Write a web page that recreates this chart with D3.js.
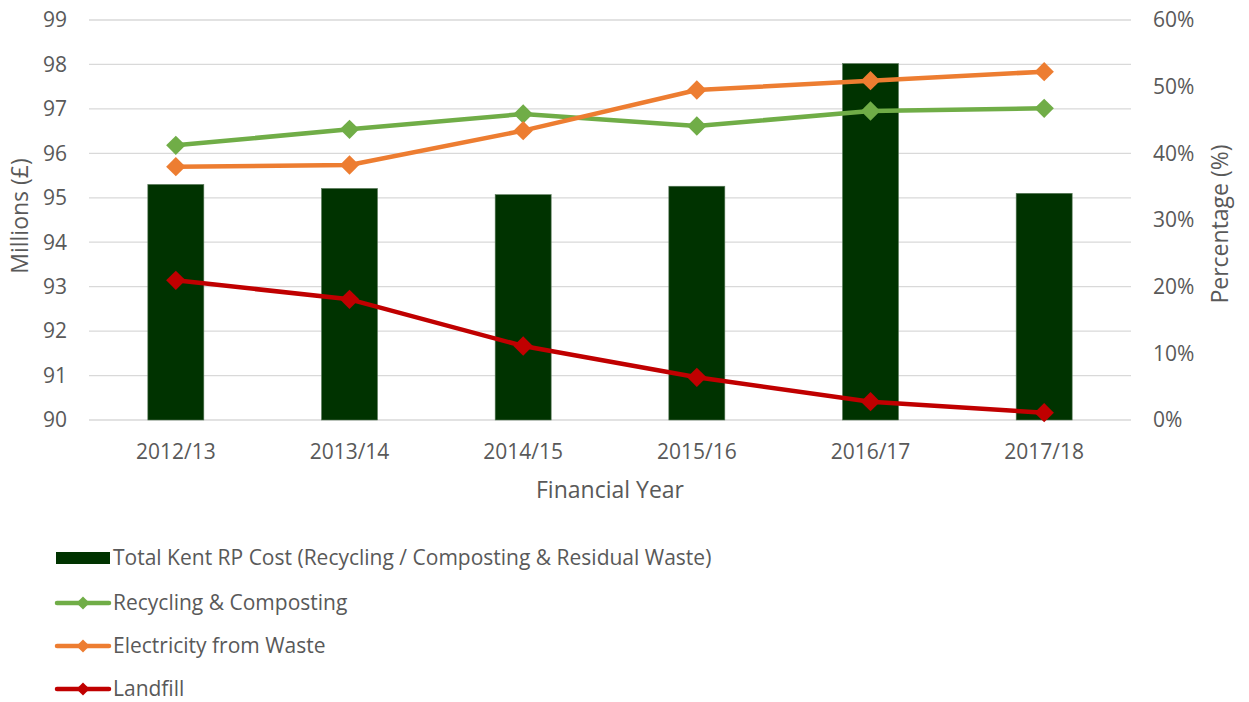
<!DOCTYPE html>
<html>
<head>
<meta charset="utf-8">
<script src="https://cdn.jsdelivr.net/npm/d3@7"></script>
<style>
  body { margin: 0; background: #fff; }
  text { font-family: "Open Sans", sans-serif; fill: #595959; }
</style>
</head>
<body>
<div id="chart"></div>
<script>
// data
const years = ["2012/13", "2013/14", "2014/15", "2015/16", "2016/17", "2017/18"];
const totalCost = [95.30, 95.21, 95.07, 95.26, 98.02, 95.10];    // millions £
const recycling = [0.412, 0.436, 0.459, 0.441, 0.4635, 0.4675];
const electricity = [0.380, 0.3825, 0.434, 0.495, 0.509, 0.5225];
const landfill = [0.2095, 0.181, 0.111, 0.064, 0.0275, 0.011];
const leftTicks = [90, 91, 92, 93, 94, 95, 96, 97, 98, 99];
const rightTicks = [0, 0.1, 0.2, 0.3, 0.4, 0.5, 0.6];

const width = 1249, height = 702;
const margin = {top: 20, left: 89, right: 118, bottom: 282};

const svg = d3.select("#chart")
    .append("svg")
    .attr("width", width)
    .attr("height", height);

const x = d3.scaleBand()
    .domain(years)
    .range([margin.left, width - margin.right]);

const yLeft = d3.scaleLinear()
    .domain([90, 99])
    .range([height - margin.bottom, margin.top]);

const yRight = d3.scaleLinear()
    .domain([0, 0.6])
    .range([height - margin.bottom, margin.top]);

// gridlines
svg.append("g")
    .selectAll("line")
    .data(leftTicks)
    .join("line")
    .attr("x1", margin.left)
    .attr("x2", width - margin.right)
    .attr("y1", d => yLeft(d))
    .attr("y2", d => yLeft(d))
    .attr("stroke", "#d9d9d9")
    .attr("stroke-width", 1.3);

// left axis labels
svg.append("g")
    .selectAll("text")
    .data(leftTicks)
    .join("text")
    .attr("x", 67)
    .attr("y", d => yLeft(d))
    .attr("dy", "0.35em")
    .attr("text-anchor", "end")
    .style("font-size", "21px")
    .text(d => d);

// right axis labels
svg.append("g")
    .selectAll("text")
    .data(rightTicks)
    .join("text")
    .attr("x", 1153)
    .attr("y", d => yRight(d))
    .attr("dy", "0.35em")
    .attr("text-anchor", "start")
    .style("font-size", "21px")
    .text(d => d3.format(".0%")(d));

// x labels
svg.append("g")
    .selectAll("text")
    .data(years)
    .join("text")
    .attr("x", d => x(d) + x.bandwidth() / 2)
    .attr("y", 452)
    .attr("dy", "0.35em")
    .attr("text-anchor", "middle")
    .style("font-size", "21px")
    .text(d => d);

// axis titles
svg.append("text")
    .attr("x", 610)
    .attr("y", 490)
    .attr("dy", "0.35em")
    .attr("text-anchor", "middle")
    .style("font-size", "23px")
    .text("Financial Year");

svg.append("text")
    .attr("transform", "translate(20,216) rotate(-90)")
    .attr("dy", "0.35em")
    .attr("text-anchor", "middle")
    .style("font-size", "23px")
    .text("Millions (£)");

svg.append("text")
    .attr("transform", "translate(1220,224) rotate(-90)")
    .attr("dy", "0.35em")
    .attr("text-anchor", "middle")
    .style("font-size", "23px")
    .text("Percentage (%)");

// bars
const barW = 56;
svg.append("g")
    .selectAll("rect")
    .data(years)
    .join("rect")
    .attr("x", d => x(d) + x.bandwidth() / 2 - barW / 2)
    .attr("width", barW)
    .attr("y", (d, i) => yLeft(totalCost[i]))
    .attr("height", (d, i) => yLeft(90) - yLeft(totalCost[i]))
    .attr("fill", "#003300")
    .attr("stroke", "#5a7a5a")
    .attr("stroke-width", 0.6);

// lines
const series = [
    {name: "Recycling & Composting", values: recycling, color: "#70AD47"},
    {name: "Electricity from Waste", values: electricity, color: "#ED7D31"},
    {name: "Landfill", values: landfill, color: "#C00000"}
];

const line = d3.line()
    .x((d, i) => x(years[i]) + x.bandwidth() / 2)
    .y(d => yRight(d));

const diamond = d3.symbol().type(d3.symbolDiamond2).size(240);

for (let s of series) {
    svg.append("path")
        .datum(s.values)
        .attr("d", line)
        .attr("fill", "none")
        .attr("stroke", s.color)
        .attr("stroke-width", 4.5)
        .attr("stroke-linejoin", "round");

    svg.append("g")
        .selectAll("path")
        .data(s.values)
        .join("path")
        .attr("transform", (d, i) => `translate(${x(years[i]) + x.bandwidth() / 2},${yRight(d)})`)
        .attr("d", diamond)
        .attr("fill", s.color);
}

// legend
const legend = svg.append("g");
const legendRows = [558, 603, 646, 689];

legend.append("rect")
    .attr("x", 56)
    .attr("y", legendRows[0] - 6)
    .attr("width", 54)
    .attr("height", 12)
    .attr("fill", "#003300");

legend.append("text")
    .attr("x", 113)
    .attr("y", legendRows[0])
    .attr("dy", "0.35em")
    .style("font-size", "21px")
    .text("Total Kent RP Cost (Recycling / Composting & Residual Waste)");

series.forEach((s, i) => {
    const yy = legendRows[i + 1];
    legend.append("line")
        .attr("x1", 57).attr("x2", 109)
        .attr("y1", yy).attr("y2", yy)
        .attr("stroke", s.color)
        .attr("stroke-width", 4.5)
        .attr("stroke-linecap", "round");
    legend.append("path")
        .attr("transform", `translate(83,${yy})`)
        .attr("d", d3.symbol().type(d3.symbolDiamond2).size(110))
        .attr("fill", s.color);
    legend.append("text")
        .attr("x", 113)
        .attr("y", yy)
        .attr("dy", "0.35em")
        .style("font-size", "21px")
        .text(s.name);
});
</script>
</body>
</html>
